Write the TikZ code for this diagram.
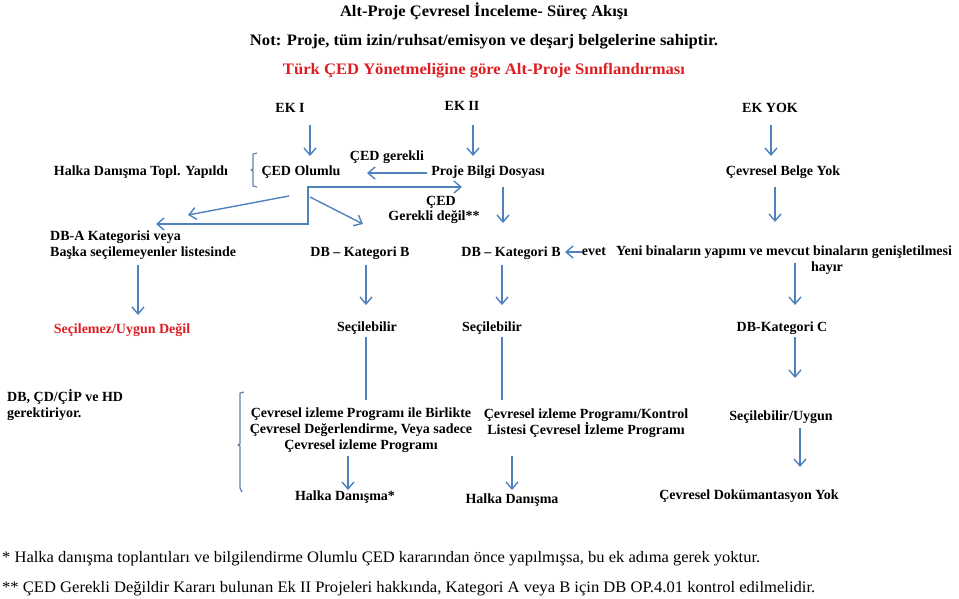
\documentclass[tikz,border=0pt]{standalone}
\usepackage{fontspec}
\setmainfont{Liberation Serif}
\newfontfamily\tnr{Liberation Serif}
\usepackage{graphicx}
\usetikzlibrary{arrows.meta}
\definecolor{ablue}{RGB}{79,129,189}
\definecolor{ared}{RGB}{220,30,35}
\tikzset{
  lbl/.style={font=\tnr\bfseries\fontsize{14}{16}\selectfont, inner sep=0pt, align=center},
  big/.style={font=\tnr\bfseries\fontsize{16}{18}\selectfont, inner sep=0pt},
  foot/.style={font=\tnr\fontsize{16}{18}\selectfont, inner sep=0pt, anchor=west},
  arr/.style={draw=ablue, line width=1.4pt, -{Straight Barb[length=7pt,width=12pt]}},
  darr/.style={draw=ablue, line width=1.4pt, {Straight Barb[length=7pt,width=12pt]}-{Straight Barb[length=7pt,width=12pt]}},
  ln/.style={draw=ablue, line width=1.4pt},
  brk/.style={draw=ablue!70!gray, line width=1.2pt, line join=round},
}
\begin{document}
\begin{tikzpicture}[x=1pt,y=-1pt]
\useasboundingbox (0,0) rectangle (959,598);
% top texts
\node[big] (title) at (484,11) {\resizebox{288pt}{\height}{Alt-Proje Çevresel İnceleme- Süreç Akışı}};
\node[big] (note) at (484,42) {\resizebox{468pt}{\height}{Not: Proje, tüm izin/ruhsat/emisyon ve deşarj belgelerine sahiptir.}};
\node[big, text=ared] (cls) at (484,71) {\resizebox{402pt}{\height}{Türk ÇED Yönetmeliğine göre Alt-Proje Sınıflandırması}};
\node[lbl] (ek1) at (290,108) {EK I};
\node[lbl] (ek2) at (462,106) {EK II};
\node[lbl] (ekyok) at (770,108) {EK YOK};
% row 2
\node[lbl] (halka) at (141,172) {Halka Danışma Topl. Yapıldı};
\node[lbl] (olumlu) at (301,172) {ÇED Olumlu};
\node[lbl] (gerekli) at (387,157) {ÇED gerekli};
\node[lbl] (pbd) at (488,172) {Proje Bilgi Dosyası};
\node[lbl] (cby) at (783,172) {Çevresel Belge Yok};
\node[lbl] (ced) at (441,202) {ÇED};
\node[lbl] (gdegil) at (434,217) {Gerekli değil**};
% row 3
\node[lbl, anchor=west, align=left] (dba) at (50,245) {DB-A Kategorisi veya\\Başka seçilemeyenler listesinde};
\node[lbl] (dbb1) at (360,253) {DB – Kategori B};
\node[lbl] (dbb2) at (511,253) {DB – Kategori B};
\node[lbl] (evet) at (594,252) {evet};
\node[lbl] (yeni) at (784,252) {Yeni binaların yapımı ve mevcut binaların genişletilmesi};
\node[lbl] (hayir) at (827,268) {hayır};
% row 4
\node[lbl, text=ared] (secuy) at (122,330) {Seçilemez/Uygun Değil};
\node[lbl] (sec1) at (367,328) {Seçilebilir};
\node[lbl] (sec2) at (492,328) {Seçilebilir};
\node[lbl] (dbc) at (782,328) {DB-Kategori C};
% row 5
\node[lbl, anchor=west, align=left] (dbcd) at (7,405) {DB, ÇD/ÇİP ve HD\\gerektiriyor.};
\node[lbl] (cip1) at (361,430) {Çevresel izleme Programı ile Birlikte\\Çevresel Değerlendirme, Veya sadece\\Çevresel izleme Programı};
\node[lbl] (cip2) at (586,423) {Çevresel izleme Programı/Kontrol\\Listesi Çevresel İzleme Programı};
\node[lbl] (secuyg) at (781,417) {Seçilebilir/Uygun};
% row 6
\node[lbl] (hd1) at (345,497) {Halka Danışma*};
\node[lbl] (hd2) at (512,500) {Halka Danışma};
\node[lbl] (cdy) at (749,496) {Çevresel Dokümantasyon Yok};
% footnotes
\node[foot] (fn1) at (2,559) {\resizebox{758pt}{\height}{* Halka danışma toplantıları ve bilgilendirme Olumlu ÇED kararından önce yapılmışsa, bu ek adıma gerek yoktur.}};
\node[foot] (fn2) at (2,589) {\resizebox{813pt}{\height}{** ÇED Gerekli Değildir Kararı bulunan Ek II Projeleri hakkında, Kategori A veya B için DB OP.4.01 kontrol edilmelidir.}};
% connector points
\coordinate (a1s) at (310,125); \coordinate (a1e) at (310,156);
\coordinate (a2s) at (473,125); \coordinate (a2e) at (473,156);
\coordinate (a3s) at (771,125); \coordinate (a3e) at (771,156);
\coordinate (a4s) at (427,173); \coordinate (a4e) at (367,173);
\coordinate (e1) at (156,224); \coordinate (e2) at (308,224); \coordinate (e3) at (308,187); \coordinate (e4) at (462,187);
\coordinate (d1s) at (289,196); \coordinate (d1e) at (188,215);
\coordinate (d2s) at (310,197); \coordinate (d2e) at (363,224);
\coordinate (a5s) at (503,187); \coordinate (a5e) at (503,223);
\coordinate (a6s) at (775,187); \coordinate (a6e) at (775,222);
\coordinate (evs) at (582,252); \coordinate (eve) at (565,252);
\coordinate (a7s) at (138,265); \coordinate (a7e) at (138,315);
\coordinate (a8s) at (366,265); \coordinate (a8e) at (366,305);
\coordinate (a9s) at (502,265); \coordinate (a9e) at (502,305);
\coordinate (a10s) at (795,263); \coordinate (a10e) at (795,305);
\coordinate (l1s) at (366,337); \coordinate (l1e) at (366,400);
\coordinate (l2s) at (502,337); \coordinate (l2e) at (502,400);
\coordinate (a11s) at (795,337); \coordinate (a11e) at (795,378);
\coordinate (a12s) at (348,456); \coordinate (a12e) at (348,490);
\coordinate (a13s) at (512,456); \coordinate (a13e) at (512,490);
\coordinate (a14s) at (800,428); \coordinate (a14e) at (800,467);
% connectors
\draw[arr] (a1s) -- (a1e);
\draw[arr] (a2s) -- (a2e);
\draw[arr] (a3s) -- (a3e);
\draw[arr] (a4s) -- (a4e);
\draw[darr] (e1) -- (e2) -- (e3) -- (e4);
\draw[arr] (d1s) -- (d1e);
\draw[arr] (d2s) -- (d2e);
\draw[arr] (a5s) -- (a5e);
\draw[arr] (a6s) -- (a6e);
\draw[arr] (evs) -- (eve);
\draw[arr] (a7s) -- (a7e);
\draw[arr] (a8s) -- (a8e);
\draw[arr] (a9s) -- (a9e);
\draw[arr] (a10s) -- (a10e);
\draw[ln] (l1s) -- (l1e);
\draw[ln] (l2s) -- (l2e);
\draw[arr] (a11s) -- (a11e);
\draw[arr] (a12s) -- (a12e);
\draw[arr] (a13s) -- (a13e);
\draw[arr] (a14s) -- (a14e);
% brackets
\draw[brk] (257,153) -- (253,154) -- (253,169) -- (251,170) -- (253,171) -- (253,186) -- (257,187);
\draw[brk] (244,392) -- (240,393) -- (240,444) -- (238,445) -- (240,446) -- (240,488) -- (242,492);
\end{tikzpicture}
\end{document}
